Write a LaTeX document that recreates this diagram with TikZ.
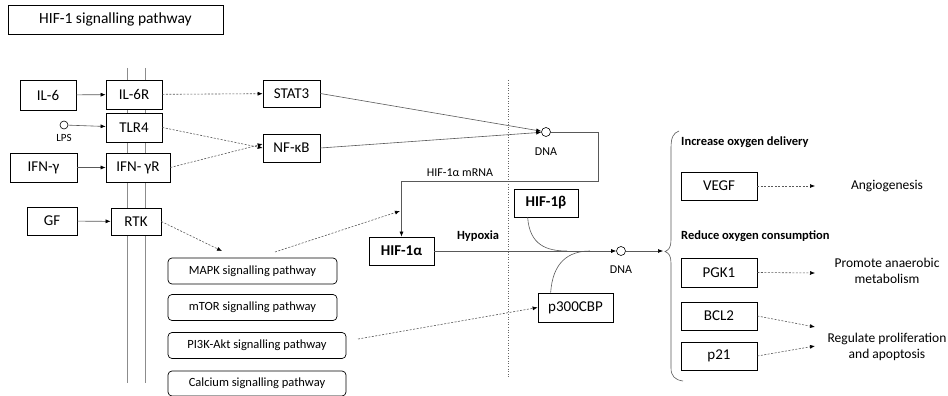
\documentclass[tikz,border=0pt]{standalone}
\usepackage{fontspec}
\setmainfont{Carlito}
\usetikzlibrary{arrows.meta,calc}
\begin{document}
\begin{tikzpicture}[x=1pt,y=-1pt,
  box/.style={draw=black,line width=0.7pt,fill=white,minimum width=#1,inner sep=0pt,font=\fontsize{15}{17}\selectfont,text=black},
  pbox/.style={draw=black,line width=0.7pt,fill=white,rounded corners=4pt,minimum width=#1,minimum height=26pt,inner sep=0pt,font=\fontsize{12.5}{14}\selectfont,text=black},
  lab/.style={font=\fontsize{13.5}{16}\selectfont,text=black,align=center,inner sep=0pt},
  blab/.style={font=\bfseries\fontsize{12.5}{15}\selectfont,text=black,inner sep=0pt},
  small/.style={font=\fontsize{12}{14}\selectfont,text=black,inner sep=0pt},
  conn/.style={draw=black!65,line width=0.6pt},
  arr/.style={conn,-{Latex[length=5pt,width=4pt,color=black]}},
  darr/.style={arr,dash pattern=on 2pt off 1.5pt},
  dot/.style={draw=black,line width=0.6pt,fill=white,circle,minimum size=9pt,inner sep=0pt},
]
\useasboundingbox (0,0) rectangle (948,396);
% membrane
\draw[black!45,line width=0.7pt] (127,68) -- (127,383);
\draw[black!45,line width=0.7pt] (145,68) -- (145,383);
% nucleus border
\draw[black!60,line width=0.6pt,dotted] (508,80) -- (508,377);

\node[box=215pt,minimum height=29pt,font=\fontsize{15.5}{18}\selectfont] (title) at (115.5,19.5) {HIF-1 signalling pathway};

\node[box=56pt,minimum height=30pt] (il6) at (48,95) {IL-6};
\node[box=56pt,minimum height=29pt] (il6r) at (134,94.5) {IL-6R};
\node[box=57pt,minimum height=27pt] (stat3) at (291.5,93.5) {STAT3};
\node[box=56pt,minimum height=29pt] (tlr4) at (134,127.5) {TLR4};
\node[box=57pt,minimum height=28pt] (nfkb) at (291.5,148) {NF-κB};
\node[box=67pt,minimum height=29pt] (ifng) at (43.5,167.5) {IFN-γ};
\node[box=64pt,minimum height=29pt] (ifngr) at (138,167.5) {IFN- γR};
\node[box=50pt,minimum height=28pt] (gf) at (52,221) {GF};
\node[box=50pt,minimum height=27pt] (rtk) at (136,221.5) {RTK};

\node[pbox=169pt] (mapk) at (252.5,271) {MAPK signalling pathway};
\node[pbox=169pt] (mtor) at (252.5,307.5) {mTOR signalling pathway};
\node[pbox=178pt] (pi3k) at (257,345.5) {PI3K-Akt signalling pathway};
\node[pbox=178pt,minimum height=25pt] (calc) at (257,383.5) {Calcium signalling pathway};

\node[box=65pt,minimum height=28pt,font=\bfseries\fontsize{15}{17}\selectfont] (hif1a) at (401.5,251) {HIF-1α};
\node[box=64pt,minimum height=28pt,font=\bfseries\fontsize{15}{17}\selectfont] (hif1b) at (546,203) {HIF-1β};
\node[box=75pt,minimum height=29pt] (p300) at (575.5,307.5) {p300CBP};

\node[box=76pt,minimum height=28pt] (vegf) at (719,186) {VEGF};
\node[box=76pt,minimum height=29pt] (pgk1) at (719,272.5) {PGK1};
\node[box=76pt,minimum height=28pt] (bcl2) at (719,316) {BCL2};
\node[box=76pt,minimum height=28pt] (p21) at (719,356) {p21};

\node[lab] (angio) at (887,186) {Angiogenesis};
\node[lab] (anaer) at (887,271) {Promote anaerobic\\metabolism};
\node[lab] (prolif) at (887,347) {Regulate proliferation\\and apoptosis};
\node[blab,anchor=west] (incr) at (681,142) {Increase oxygen delivery};
\node[blab,anchor=west] (redu) at (681,236) {Reduce oxygen consumption};
\node[blab] (hypoxia) at (478,236) {Hypoxia};
\node[small] (mrna) at (460,173) {HIF-1α mRNA};

\node[dot,minimum size=8pt] (lps) at (64,125) {};
\node[font=\fontsize{11}{13}\selectfont,text=black,inner sep=0pt] (lpsl) at (64,138) {LPS};
\node[dot] (dna1) at (546,132) {};
\node[small] (dna1l) at (546,152) {DNA};
\node[dot] (dna2) at (621,251) {};
\node[small] (dna2l) at (621,270) {DNA};

\coordinate (rtktip) at (222,251);
\coordinate (mapkst) at (275,252);
\coordinate (mrnatip) at (400,211);
\coordinate (pi3kst) at (358,339);
\coordinate (brtip) at (663,251);
\coordinate (vegft) at (815,186);
\coordinate (pgkt) at (815,273);
\coordinate (bclt) at (815,327);
\coordinate (p21t) at (815,346);
\coordinate (bjoin) at (567,251);
\coordinate (pjoin) at (590,251);

% connectors
\draw[arr] (il6) -- (il6r);
\draw[arr] (lps) -- (tlr4);
\draw[arr] (ifng) -- (ifngr);
\draw[arr] (gf) -- (rtk);
\draw[darr] (il6r) -- (stat3);
\draw[darr] (tlr4.east) -- (nfkb.west);
\draw[darr] (ifngr.east) -- ([yshift=4pt]nfkb.west);
\draw[darr] (rtk.east) -- (rtktip);
\draw[darr] (mapkst) -- (mrnatip);
\draw[darr] (pi3kst) -- (p300.west);
\draw[arr] (stat3.east) -- (dna1);
\draw[arr] (nfkb.east) -- (dna1);
\draw[arr] (dna1.east) -| (598,181) -| (hif1a.north);
\draw[arr] (hif1a.east) -- (dna2);
\draw[conn] ([xshift=14pt]hif1b.south west) .. controls +(2,28) and +(-20,0) .. (bjoin);
\draw[conn] ([xshift=13pt]p300.north west) .. controls +(2,-30) and +(-22,0) .. (pjoin);
\draw[arr] (dna2) -- (brtip);
% brace
\draw[conn] (679,131) .. controls (673,133) and (671,138) .. (671,148) -- (671,240)
  .. controls (671,247) and (669,250) .. (665,251.5) .. controls (669,253) and (671,256) .. (671,263)
  -- (671,368) .. controls (671,376) and (675,380) .. (683,381);
\draw[darr] (vegf) -- (vegft);
\draw[darr] (pgk1.east) -- (pgkt);
\draw[darr] (bcl2.east) -- (bclt);
\draw[darr] (p21.east) -- (p21t);
\end{tikzpicture}
\end{document}
